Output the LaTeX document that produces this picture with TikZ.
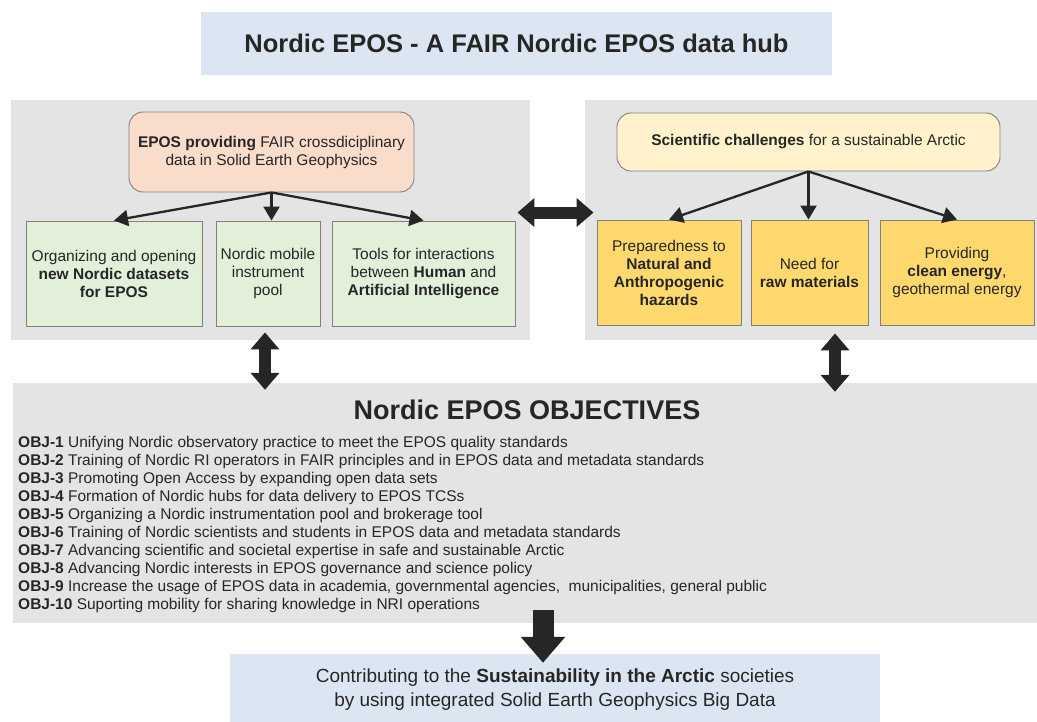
\documentclass[tikz,border=0pt]{standalone}
\usepackage{fontspec}
\setmainfont{Liberation Sans}
\usetikzlibrary{arrows.meta}

\definecolor{hubblue}{HTML}{DCE6F2}
\definecolor{panelgray}{HTML}{E4E4E4}
\definecolor{peach}{HTML}{FADCCB}
\definecolor{cream}{HTML}{FFF2CC}
\definecolor{palegreen}{HTML}{E2EFD9}
\definecolor{gold}{HTML}{FFD96E}
\definecolor{ink}{HTML}{262626}

\tikzset{
	panel/.style={fill=panelgray, inner sep=0pt},
	topbox/.style={draw=black!50, line width=0.9pt, rounded corners=14pt, align=center, text=ink, font=\fontsize{15.5}{18}\selectfont},
	subbox/.style={draw=black!50, line width=0.9pt, align=center, text=ink, inner sep=2pt, font=\fontsize{15.5}{18}\selectfont},
	objline/.style={anchor=base west, inner sep=0pt, text=ink, font=\fontsize{15.5}{18}\selectfont},
	thin arrow/.style={line width=2.3pt, draw=ink, -{Triangle[length=14pt,width=16pt]}},
	fat arrow/.style={line width=12pt, draw=ink, {Triangle[length=17pt,width=28pt]}-{Triangle[length=17pt,width=28pt]}},
	big arrow/.style={line width=21pt, draw=ink, -{Triangle[length=26pt,width=43pt]}}
}

\begin{document}
\begin{tikzpicture}[x=1pt, y=-1pt]
			%%%%% START %%%%%
			\useasboundingbox (0, 0) rectangle (1037, 722);
			
			\node[fill=hubblue, minimum width=631pt, minimum height=63pt, text=ink, font=\bfseries\fontsize{25.5}{30}\selectfont] (title) at (516.5, 43.5) {Nordic EPOS - A FAIR Nordic EPOS data hub};
			
			\node[panel, minimum width=519pt, minimum height=240pt] (leftpanel) at (270.5, 220) {};
			\node[panel, minimum width=452pt, minimum height=240pt] (rightpanel) at (811, 220) {};
			
			\node[topbox, fill=peach, minimum width=285pt, minimum height=80pt] (epos) at (271.5, 152) {\textbf{EPOS providing} FAIR crossdiciplinary\\ data in Solid Earth Geophysics};
			\node[subbox, fill=palegreen, minimum width=176pt, minimum height=105pt] (orga) at (114, 273.5) {Organizing and opening\\ \textbf{new Nordic datasets}\\ \textbf{for EPOS}};
			\node[subbox, fill=palegreen, minimum width=104pt, minimum height=105pt] (mobile) at (268, 273.5) {Nordic mobile\\ instrument\\ pool};
			\node[subbox, fill=palegreen, minimum width=183pt, minimum height=105pt] (tools) at (423.5, 273.5) {Tools for interactions\\ between \textbf{Human} and\\ \textbf{Artificial Intelligence}};
			
			\node[topbox, fill=cream, minimum width=383pt, minimum height=58pt] (sci) at (808.5, 142) {\textbf{Scientific challenges} for a sustainable Arctic};
			\node[subbox, fill=gold, minimum width=144pt, minimum height=105pt] (hazards) at (669, 272.5) {Preparedness to\\ \textbf{Natural and}\\ \textbf{Anthropogenic}\\ \textbf{hazards}};
			\node[subbox, fill=gold, minimum width=117pt, minimum height=105pt] (raw) at (809.5, 272.5) {Need for\\ \textbf{raw materials}};
			\node[subbox, fill=gold, minimum width=154pt, minimum height=105pt] (energy) at (957, 272.5) {Providing\\ \textbf{clean energy},\\ geothermal energy};
			
			\draw[thin arrow] (epos.south) -- (orga.north);
			\draw[thin arrow] (epos.south) -- (epos.south |- mobile.north);
			\draw[thin arrow] (epos.south) -- (tools.north);
			\draw[thin arrow] (sci.south) -- (hazards.north);
			\draw[thin arrow] (sci.south) -- (sci.south |- raw.north);
			\draw[thin arrow] (sci.south) -- (energy.north);
			
			\node[panel, minimum width=1024pt, minimum height=240pt] (objpanel) at (525, 503) {};
			\node[text=ink, font=\bfseries\fontsize{27}{32}\selectfont] (objhead) at (527, 410) {Nordic EPOS OBJECTIVES};
			
			\node[objline] (obj1) at (18, 447) {\textbf{OBJ-1} Unifying Nordic observatory practice to meet the EPOS quality standards};
			\node[objline] (obj2) at (18, 465) {\textbf{OBJ-2} Training of Nordic RI operators in FAIR principles and in EPOS data and metadata standards};
			\node[objline] (obj3) at (18, 483) {\textbf{OBJ-3} Promoting Open Access by expanding open data sets};
			\node[objline] (obj4) at (18, 501) {\textbf{OBJ-4} Formation of Nordic hubs for data delivery to EPOS TCSs};
			\node[objline] (obj5) at (18, 519) {\textbf{OBJ-5} Organizing a Nordic instrumentation pool and brokerage tool};
			\node[objline] (obj6) at (18, 537) {\textbf{OBJ-6} Training of Nordic scientists and students in EPOS data and metadata standards};
			\node[objline] (obj7) at (18, 555) {\textbf{OBJ-7} Advancing scientific and societal expertise in safe and sustainable Arctic};
			\node[objline] (obj8) at (18, 573) {\textbf{OBJ-8} Advancing Nordic interests in EPOS governance and science policy};
			\node[objline] (obj9) at (18, 591) {\textbf{OBJ-9} Increase the usage of EPOS data in academia, governmental agencies,~ municipalities, general public};
			\node[objline] (obj10) at (18, 609) {\textbf{OBJ-10} Suporting mobility for sharing knowledge in NRI operations};
			
			\node[fill=hubblue, minimum width=650pt, minimum height=72pt, align=center, text=ink, font=\fontsize{19}{24}\selectfont] (outcome) at (555, 690) {Contributing to the \textbf{Sustainability in the Arctic} societies\\ by using integrated Solid Earth Geophysics Big Data};
			
			% fat connectors
			\draw[fat arrow, shorten <=2pt, shorten >=3pt] ([yshift=8pt]tools.north east) -- ([yshift=7pt]hazards.north west);
			\draw[fat arrow, shorten <=6pt, shorten >=-7pt] ([xshift=-3pt]mobile.south) -- ([xshift=-3pt]mobile.south |- objpanel.north);
			\draw[fat arrow, shorten <=8pt, shorten >=-9pt] ([xshift=25.5pt]raw.south) -- ([xshift=25.5pt]raw.south |- objpanel.north);
			\draw[big arrow, shorten <=-13pt, shorten >=-9pt] ([xshift=-12pt]outcome.north |- objpanel.south) -- ([xshift=-12pt]outcome.north);
			
			%%%%% END %%%%%
\end{tikzpicture}
\end{document}
